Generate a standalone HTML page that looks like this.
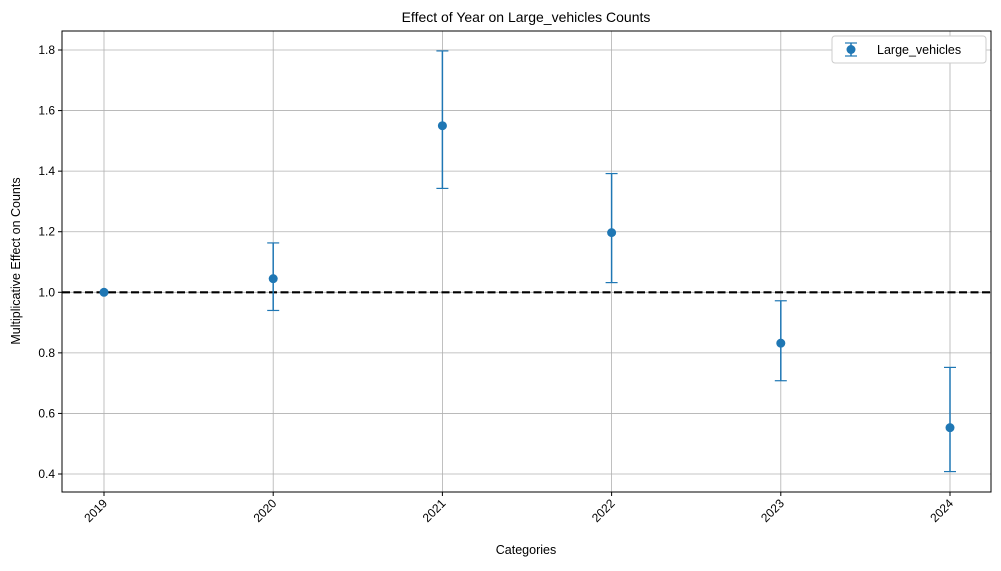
<!DOCTYPE html>
<html><head><meta charset="utf-8"><style>
body{margin:0;background:#fff;font-family:"Liberation Sans","DejaVu Sans",sans-serif}
svg text{font-family:"Liberation Sans","DejaVu Sans",sans-serif;fill:#000}
</style></head><body>
<svg id="chart" width="1001" height="566" viewBox="0 0 1001 566">
<text x="526" y="22" font-size="14" text-anchor="middle">Effect of Year on Large_vehicles Counts</text>
<g id="grid"></g>
<g id="axes"></g>
<g id="marks"></g>
<text x="526" y="554" font-size="12.5" text-anchor="middle">Categories</text>
<text transform="translate(20,261) rotate(-90)" font-size="12.5" text-anchor="middle">Multiplicative Effect on Counts</text>
<g>
<rect x="832" y="36" width="154" height="27" rx="3" fill="#fff" stroke="#ccc"/>
<line x1="851" y1="43" x2="851" y2="56" stroke="#1f77b4" stroke-width="1.5"/>
<line x1="845" y1="43" x2="857" y2="43" stroke="#1f77b4" stroke-width="1.2"/>
<line x1="845" y1="56" x2="857" y2="56" stroke="#1f77b4" stroke-width="1.2"/>
<circle cx="851" cy="49.5" r="4.5" fill="#1f77b4"/>
<text x="877" y="54" font-size="12.5">Large_vehicles</text>
</g>
</svg>
<script>
const categories=["2019","2020","2021","2022","2023","2024"];
const estimates=[1.0,1.045,1.55,1.197,0.832,0.553];
const lowerCI=[1.0,0.94,1.343,1.032,0.708,0.408];
const upperCI=[1.0,1.163,1.797,1.392,0.972,0.752];
const yTicks=[0.4,0.6,0.8,1.0,1.2,1.4,1.6,1.8];
const refLine=1.0;

const L=62,R=991,T=31,B=492;
const x=i=>104+i*(950-104)/(categories.length-1);
const y=v=>474-(v-0.4)/0.2*60.57;
const NS="http://www.w3.org/2000/svg";
function mk(tag,attrs,parent){const e=document.createElementNS(NS,tag);for(const k in attrs)e.setAttribute(k,attrs[k]);parent.appendChild(e);return e;}
const grid=document.getElementById('grid'),axes=document.getElementById('axes'),marks=document.getElementById('marks');
categories.forEach((c,i)=>{
  const g=mk('line',{x1:x(i),x2:x(i),y1:T,y2:B,stroke:'#b0b0b0','stroke-width':0.8},grid);
  
  
  mk('line',{x1:x(i),x2:x(i),y1:B,y2:B+4,stroke:'#000'},axes);
  const t=mk('text',{x:0,y:0,'font-size':12,'text-anchor':'end',transform:`translate(${x(i)+4},${B+12}) rotate(-45)`},axes);
  t.textContent=c;
  
  
});
yTicks.forEach(v=>{
  const g=mk('line',{x1:L,x2:R,y1:y(v),y2:y(v),stroke:'#b0b0b0','stroke-width':0.8},grid);
  
  
  mk('line',{x1:L-4,x2:L,y1:y(v),y2:y(v),stroke:'#000'},axes);
  const t=mk('text',{x:L-7,y:y(v)+4,'font-size':12,'text-anchor':'end'},axes);
  t.textContent=v.toFixed(1);
  
  
});
const fr=mk('rect',{x:L,y:T,width:R-L,height:B-T,fill:'none',stroke:'#000','stroke-width':1},axes);


const rl=mk('line',{x1:L,x2:R,y1:y(refLine),y2:y(refLine),stroke:'#000','stroke-width':2.2,'stroke-dasharray':'8,3.5'},marks);


categories.forEach((c,i)=>{
  const g=mk('g',{},marks);
  
  
  if(upperCI[i]!==lowerCI[i]){
    mk('line',{x1:x(i),x2:x(i),y1:y(upperCI[i]),y2:y(lowerCI[i]),stroke:'#1f77b4','stroke-width':1.5},g);
    mk('line',{x1:x(i)-6,x2:x(i)+6,y1:y(upperCI[i]),y2:y(upperCI[i]),stroke:'#1f77b4','stroke-width':1.2},g);
    mk('line',{x1:x(i)-6,x2:x(i)+6,y1:y(lowerCI[i]),y2:y(lowerCI[i]),stroke:'#1f77b4','stroke-width':1.2},g);
  }
  mk('circle',{cx:x(i),cy:y(estimates[i]),r:4.5,fill:'#1f77b4'},g);
});
</script>
</body></html>
